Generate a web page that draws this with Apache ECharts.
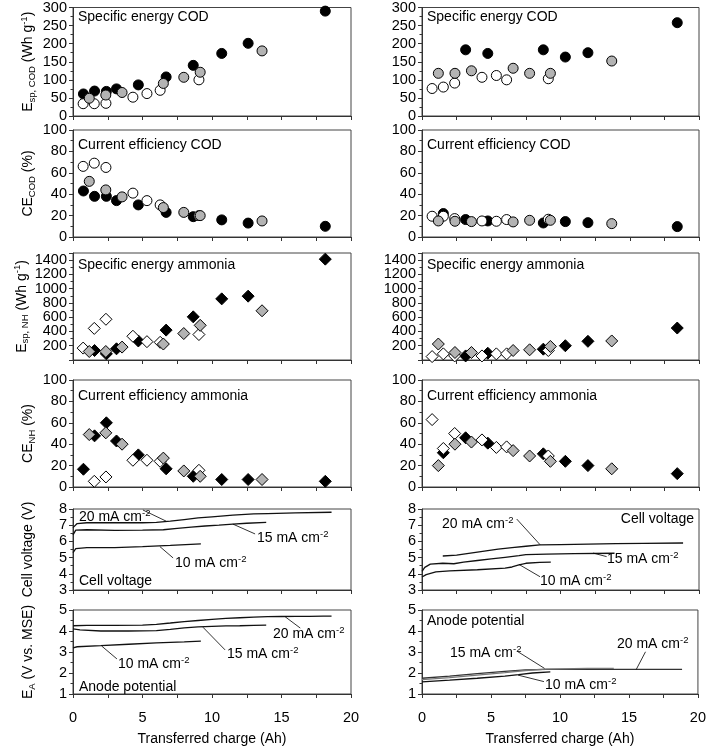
<!DOCTYPE html>
<html><head><meta charset="utf-8">
<script src="https://cdn.jsdelivr.net/npm/echarts@6/dist/echarts.min.js"></script>
<style>html,body{margin:0;padding:0;background:#fff}#c{width:709px;height:748px}</style>
</head><body><div id="c"></div>
<script>
// ---------- DATA ----------
// Left column (first experiment) transferred charge (Ah)
const xBlackL = [0.75, 1.55, 2.4, 3.13, 4.7, 6.7, 8.65, 10.7, 12.6, 18.15];
const xGrayL  = [1.17, 2.36, 3.53, 6.5, 7.97, 9.15, 13.6];
const xWhiteL = [0.73, 1.53, 2.37, 4.31, 5.32, 6.27, 9.06];
// Right column
const xBlackR = [1.54, 3.15, 4.75, 8.76, 10.35, 11.98, 18.43];
const xGrayR  = [1.18, 2.38, 3.57, 6.58, 7.77, 9.27, 13.7];
const xWhiteR = [0.73, 1.54, 2.36, 4.33, 5.37, 6.11, 9.12];

// Specific energy COD (Wh g-1)
const eCodBlackL = [61, 69, 68, 75, 86, 108, 140, 173, 201, 290];
const eCodGrayL  = [49, 58, 65, 90, 107, 121, 180];
const eCodWhiteL = [34, 34, 35, 52, 62, 71, 100];
const eCodBlackR = [null, 183, 173, 183, 163, 175, 258];
const eCodGrayR  = [118, 118, 125, 132, 118, 118, 152];
const eCodWhiteR = [76, 80, 91, 107, 112, 100, 103];
// Current efficiency COD (%)
const ceCodBlackL = [43, 38, 38, 34, 30, 23, 19, 16, 13, 10];
const ceCodGrayL  = [52, 44, 37.5, 27.5, 23, 20, 15];
const ceCodWhiteL = [66, 69, 65, 41, 34, 30, 20];
const ceCodBlackR = [21.9, 16.3, 15, 13.1, 14.4, 13.4, 9.7];
const ceCodGrayR  = [15, 14.7, 14.4, 14.1, 15.6, 15.6, 12.5];
const ceCodWhiteR = [19.4, 19.4, 17.2, 15, 14.7, 16.3, 16.6];
// Specific energy ammonia (Wh g-1)
const eNhBlackL = [null, 133, 86, 157, 267, 419, 605, 857, 895, 1414];
const eNhGrayL  = [119, 119, 181, 224, 371, 486, 690];
const eNhWhiteL = [167, 443, 571, 333, 257, 248, 357];
const eNhBlackR = [null, 57, 95, 152, 200, 262, 448];
const eNhGrayR  = [224, 105, 105, 133, 143, 190, 267];
const eNhWhiteR = [48, 86, 57, 57, 86, 86, 133];
// Current efficiency ammonia (%)
const ceNhBlackL = [16.6, 47.8, 60, 43, 30, 17, 10, 7, 7, 5.3];
const ceNhGrayL  = [49, 50.6, 40, 27, 15, 10, 7];
const ceNhWhiteL = [null, 5.3, 9.4, 25, 25, 24, 15.6];
const ceNhBlackR = [32, 46, 41, 31, 24, 20, 12.5];
const ceNhGrayR  = [20, 40, 42, 34, 29, 24, 17];
const ceNhWhiteR = [63, 36, 50, 44, 37, 37.5, 29];

// Cell voltage (V) curves
const cv20Lx = [0, 0.3, 1, 3, 5, 6, 7, 8, 9, 10, 11.5, 13, 14, 16, 18.6];
const cv20Ly = [6.85, 7.1, 7.15, 7.15, 7.15, 7.18, 7.25, 7.35, 7.45, 7.52, 7.62, 7.7, 7.72, 7.76, 7.8];
const cv15Lx = [0, 0.2, 1, 3, 5, 6.5, 7.5, 8.5, 9.5, 10.5, 11.5, 12.5, 13.9];
const cv15Ly = [6.4, 6.7, 6.72, 6.68, 6.7, 6.72, 6.8, 6.88, 6.95, 7.0, 7.07, 7.12, 7.18];
const cv10Lx = [0, 0.2, 1, 3, 5, 7, 9.2];
const cv10Ly = [5.3, 5.55, 5.62, 5.62, 5.68, 5.75, 5.85];
const cv20Rx = [1.5, 2.5, 3.5, 4.5, 5.5, 6.5, 7.5, 8.5, 10, 12, 14, 16, 18.85];
const cv20Ry = [5.1, 5.15, 5.28, 5.4, 5.52, 5.62, 5.7, 5.78, 5.8, 5.83, 5.86, 5.88, 5.9];
const cv15Rx = [0, 0.2, 0.6, 1.5, 2.3, 3, 4, 5, 6, 7, 7.5, 9, 11, 13.9];
const cv15Ry = [4.15, 4.4, 4.6, 4.65, 4.62, 4.72, 4.82, 4.92, 5.02, 5.12, 5.18, 5.22, 5.25, 5.27];
const cv10Rx = [0, 0.3, 1, 2, 4, 6, 6.5, 7, 7.5, 8.5, 9.3];
const cv10Ry = [3.8, 3.95, 4.12, 4.18, 4.25, 4.35, 4.42, 4.55, 4.65, 4.7, 4.72];
// Anode potential (V vs. MSE) curves
const ea20Lx = [0, 1, 3, 5, 6, 7, 8, 9, 10, 11, 12, 13, 14, 15, 16, 17, 18, 18.6];
const ea20Ly = [4.25, 4.27, 4.27, 4.28, 4.32, 4.38, 4.45, 4.5, 4.55, 4.6, 4.63, 4.66, 4.68, 4.69, 4.7, 4.7, 4.71, 4.71];
const ea15Lx = [0, 0.5, 2, 4, 6, 7, 8, 9, 10, 11, 12, 13, 13.9];
const ea15Ly = [4.1, 4.05, 4.0, 4.0, 4.02, 4.08, 4.15, 4.2, 4.22, 4.24, 4.25, 4.27, 4.28];
const ea10Lx = [0, 0.3, 2, 4, 6, 8, 9.2];
const ea10Ly = [3.2, 3.25, 3.3, 3.37, 3.43, 3.48, 3.52];
const ea20Rx = [0, 2, 4, 6, 7.5, 9, 12, 15, 18.85];
const ea20Ry = [1.75, 1.85, 1.97, 2.08, 2.15, 2.17, 2.17, 2.17, 2.17];
const ea15Rx = [0, 2, 4, 6, 7.5, 9, 12, 13.9];
const ea15Ry = [1.68, 1.78, 1.9, 2.02, 2.12, 2.18, 2.22, 2.22];
const ea10Rx = [0, 2, 4, 6, 7, 8, 9.3];
const ea10Ry = [1.58, 1.66, 1.75, 1.85, 1.92, 2.0, 2.05];

// Axis ranges / tick labels
const xTicks = [0, 5, 10, 15, 20];
const yMins = [0, 0, 0, 0, 3, 1];
const yMaxs = [300, 100, 1500, 100, 8, 5];
const yIntervals = [50, 20, 200, 20, 1, 1];
const panelTitles = [
  ['Specific energy COD', 'Specific energy COD'],
  ['Current efficiency COD', 'Current efficiency COD'],
  ['Specific energy ammonia', 'Specific energy ammonia'],
  ['Current efficiency ammonia', 'Current efficiency ammonia'],
  ['Cell voltage', 'Cell voltage'],
  ['Anode potential', 'Anode potential']
];
const yNames = [
  '{n|E}{sub|sp, COD}{n| (Wh g}{sup|-1}{n|)}',
  '{n|CE}{sub|COD}{n| (%)}',
  '{n|E}{sub|sp, NH}{n| (Wh g}{sup|-1}{n|)}',
  '{n|CE}{sub|NH}{n| (%)}',
  '{n|Cell voltage (V)}',
  '{n|E}{sub|A}{n| (V vs. MSE)}'
];
const xName = 'Transferred charge (Ah)';

// ---------- LAYOUT ----------
const FONT = '"Liberation Sans", Arial, sans-serif';
const colLeft = [73, 422], colWidth = [278, 277];
const rowTop = [7, 130, 253, 380, 509, 610], rowH = [109, 107, 107, 107, 81, 84];
const BLACK = '#000', GRAY = '#b3b3b3', WHITE = '#fff';
const rich = {
  n: {fontSize: 14, fontFamily: FONT, color: '#000', lineHeight: 18},
  sub: {fontSize: 9.5, fontFamily: FONT, color: '#000', lineHeight: 10, verticalAlign: 'bottom'},
  sup: {fontSize: 9.5, fontFamily: FONT, color: '#000', lineHeight: 10, verticalAlign: 'top'}
};

const grids = [], xAxes = [], yAxes = [], series = [];
for (let r = 0; r < 6; r++) for (let c = 0; c < 2; c++) {
  const gi = r * 2 + c;
  grids.push({left: colLeft[c], width: colWidth[c], top: rowTop[r], height: rowH[r],
    show: true, borderColor: '#444', borderWidth: 1, containLabel: false});
  xAxes.push({type: 'value', gridIndex: gi, min: 0, max: 20, interval: 2.5,
    axisLine: {show: true, onZero: false, lineStyle: {color: '#333', width: 1}},
    axisTick: {show: true, inside: false, length: 4, lineStyle: {color: '#333'}},
    splitLine: {show: false},
    axisLabel: {show: r === 5, margin: 16, fontSize: 14.5, fontFamily: FONT, color: '#000',
      formatter: v => xTicks.indexOf(v) >= 0 ? String(v) : ''},
    name: r === 5 ? xName : '', nameLocation: 'middle', nameGap: 38,
    nameTextStyle: {fontSize: 14, fontFamily: FONT, color: '#000'}
  });
  yAxes.push({type: 'value', gridIndex: gi, min: yMins[r], max: yMaxs[r], interval: yIntervals[r],
    axisLine: {show: true, lineStyle: {color: '#333', width: 1}},
    axisTick: {show: true, length: 4, lineStyle: {color: '#333'}},
    minorTick: {show: true, splitNumber: 2, length: 2.5, lineStyle: {color: '#333'}},
    splitLine: {show: false}, minorSplitLine: {show: false},
    axisLabel: {margin: 6, fontSize: 14.5, fontFamily: FONT, color: '#000',
      formatter: v => (r === 2 && v === 1500) ? '' : String(v)},
    name: c === 0 ? yNames[r] : '', nameLocation: 'middle', nameRotate: 90, nameGap: 36,
    nameTextStyle: {rich: rich, fontSize: 14, fontFamily: FONT, color: '#000'}
  });
}

function zip(xs, ys) { const out = []; xs.forEach((x, i) => { if (ys[i] != null) out.push([x, ys[i]]); }); return out; }
function sc(gi, xs, ys, fill, sym) {
  series.push({type: 'scatter', xAxisIndex: gi, yAxisIndex: gi, data: zip(xs, ys),
    symbol: sym, symbolSize: sym === 'circle' ? 10 : 12,
    itemStyle: {color: fill, borderColor: '#000', borderWidth: 1, opacity: 1}, silent: true});
}
const mk = {circle: 'circle', dia: 'diamond'};
// panels 0..7: black, white, gray order
const scat = [
  [0, xBlackL, eCodBlackL, xWhiteL, eCodWhiteL, xGrayL, eCodGrayL, mk.circle],
  [1, xBlackR, eCodBlackR, xWhiteR, eCodWhiteR, xGrayR, eCodGrayR, mk.circle],
  [2, xBlackL, ceCodBlackL, xWhiteL, ceCodWhiteL, xGrayL, ceCodGrayL, mk.circle],
  [3, xBlackR, ceCodBlackR, xWhiteR, ceCodWhiteR, xGrayR, ceCodGrayR, mk.circle],
  [4, xBlackL, eNhBlackL, xWhiteL, eNhWhiteL, xGrayL, eNhGrayL, mk.dia],
  [5, xBlackR, eNhBlackR, xWhiteR, eNhWhiteR, xGrayR, eNhGrayR, mk.dia],
  [6, xBlackL, ceNhBlackL, xWhiteL, ceNhWhiteL, xGrayL, ceNhGrayL, mk.dia],
  [7, xBlackR, ceNhBlackR, xWhiteR, ceNhWhiteR, xGrayR, ceNhGrayR, mk.dia]
];
scat.forEach(s => {
  sc(s[0], s[1], s[2], BLACK, s[7]);
  sc(s[0], s[3], s[4], WHITE, s[7]);
  sc(s[0], s[5], s[6], GRAY, s[7]);
});

// leader lines (data coordinates) per panel
const leaders = {
  8: [[[5.03, 7.94], [6.7, 7.25]], [[13.1, 6.46], [11.5, 7.07]], [[7.2, 4.98], [6.25, 5.68]]],
  9: [[[6.84, 7.38], [8.52, 5.8]], [[13.33, 5.06], [12.36, 5.28]], [[8.52, 3.82], [7.0, 4.58]]],
  10: [[[16.35, 4.14], [15.26, 4.68]], [[10.94, 3.1], [9.35, 4.18]], [[3.16, 2.67], [2.07, 3.28]]],
  11: [[[6.96, 3.01], [8.88, 2.22]], [[8.84, 1.59], [6.96, 1.9]], [[16.2, 3.01], [15.53, 2.17]]]
};
function ln(gi, xs, ys, color, withLeaders) {
  const s = {type: 'line', xAxisIndex: gi, yAxisIndex: gi, data: zip(xs, ys), showSymbol: false,
    symbol: 'none', lineStyle: {color: color, width: 1.3}, silent: true, z: 3};
  if (withLeaders) {
    s.markLine = {silent: true, symbol: ['none', 'none'], animation: false,
      lineStyle: {color: '#000', width: 0.8, type: 'solid'}, label: {show: false},
      data: leaders[gi].map(p => [{coord: p[0]}, {coord: p[1]}])};
  }
  series.push(s);
}
ln(8, cv20Lx, cv20Ly, '#111', true); ln(8, cv15Lx, cv15Ly, '#111'); ln(8, cv10Lx, cv10Ly, '#111');
ln(9, cv20Rx, cv20Ry, '#111', true); ln(9, cv15Rx, cv15Ry, '#111'); ln(9, cv10Rx, cv10Ry, '#111');
ln(10, ea20Lx, ea20Ly, '#111', true); ln(10, ea15Lx, ea15Ly, '#111'); ln(10, ea10Lx, ea10Ly, '#111');
ln(11, ea20Rx, ea20Ry, '#333', true); ln(11, ea15Rx, ea15Ry, '#777'); ln(11, ea10Rx, ea10Ry, '#111');

// ---------- TEXT GRAPHICS ----------
const graphics = [];
function txt(text, x, y, align) {
  graphics.push({type: 'text', x: x, y: y, silent: true, z: 100,
    style: {text: text, rich: rich, fill: '#000', font: '14px ' + FONT,
      align: align || 'left', verticalAlign: 'middle'}});
}
const titlePos = [
  [[78, 17], [427, 17]],
  [[78, 145], [427, 145]],
  [[78, 265], [427, 265]],
  [[78, 396], [427, 396]],
  [[79, 581], [694, 519, 'right']],
  [[79, 687], [427, 621]]
];
panelTitles.forEach((row, r) => row.forEach((t, c) => {
  const p = titlePos[r][c];
  txt('{n|' + t + '}', p[0], p[1], p[2]);
}));
const ann = [
  ['20', 79, 517], ['15', 257, 538], ['10', 175, 563],
  ['20', 273, 634], ['15', 227, 654], ['10', 118, 664],
  ['20', 442, 524], ['15', 607, 559], ['10', 540, 581],
  ['15', 450, 653], ['10', 545, 685], ['20', 617, 644]
];
ann.forEach(a => txt('{n|' + a[0] + ' mA cm}{sup|-2}', a[1], a[2]));

const chart = echarts.init(document.getElementById('c'), null, {renderer: 'canvas'});
chart.setOption({
  animation: false, backgroundColor: '#fff',
  textStyle: {fontFamily: FONT},
  grid: grids, xAxis: xAxes, yAxis: yAxes, series: series, graphic: graphics
});
</script></body></html>
